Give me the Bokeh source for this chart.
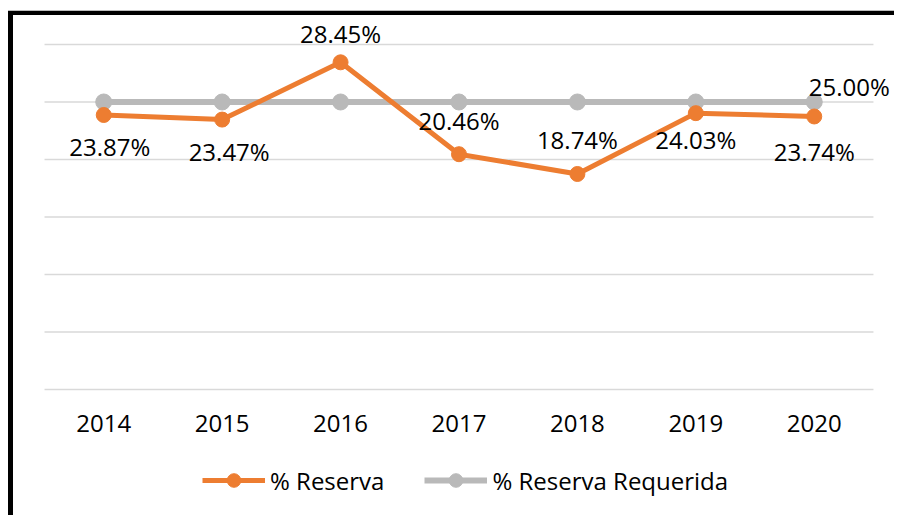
from bokeh.plotting import figure
from bokeh.models import (ColumnDataSource, Range1d, FixedTicker,
                          LabelSet, Legend, LegendItem)
from bokeh.core.properties import value
from bokeh.embed import file_html
from bokeh.resources import INLINE

years = ["2014", "2015", "2016", "2017", "2018", "2019", "2020"]
reserva = [23.87, 23.47, 28.45, 20.46, 18.74, 24.03, 23.74]
requerida = [25.00, 25.00, 25.00, 25.00, 25.00, 25.00, 25.00]
y_ticks = [0, 5, 10, 15, 20, 25, 30]

# label placement (screen-pixel offsets)
res_dx = [6, 7, 0, 0, 0, 0, 0]
res_dy = [-32, -32, 29, 34, 34, -26, -35]

FONT = "Open Sans"
FS = "24px"
ORANGE = "#ED7D31"
GRAY = "#B9B9B9"

xi = list(range(len(years)))
n = len(years)

p = figure(width=886, height=504, x_range=Range1d(-0.762, 6.72),
           y_range=Range1d(-11.3, 32.52), output_backend="svg", toolbar_location=None,
           min_border=0)
p.styles = {"border-left": "5px solid black", "border-top": "4px solid black",
            "margin-left": "8px", "margin-top": "11px",
            "box-shadow": "0 -1px 0 #BDBDBD"}
p.outline_line_color = None
p.background_fill_color = "white"
p.border_fill_color = "white"

p.yaxis.visible = False
p.ygrid.grid_line_color = None
p.xgrid.grid_line_color = None

# horizontal gridlines spanning the category band
p.segment(x0=[-0.5] * len(y_ticks), x1=[n - 0.5] * len(y_ticks), y0=y_ticks, y1=y_ticks,
          line_color="#D9D9D9", line_width=1.5)

xa = p.xaxis[0]
xa.fixed_location = 0
xa.ticker = FixedTicker(ticks=xi)
xa.major_label_overrides = {i: y for i, y in zip(xi, years)}
xa.axis_line_color = None
xa.major_tick_line_color = None
xa.minor_tick_line_color = None
xa.major_label_text_font = FONT
xa.major_label_text_font_size = FS
xa.major_label_text_color = "#000000"
xa.major_label_standoff = 19

src = ColumnDataSource(dict(x=xi, r=reserva, q=requerida,
                            rl=[f"{v:.2f}%" for v in reserva],
                            dx=res_dx, dy=res_dy))

lq = p.line("x", "q", source=src, line_color=GRAY, line_width=6)
cq = p.scatter("x", "q", source=src, size=16, fill_color=GRAY, line_color=GRAY)
lr = p.line("x", "r", source=src, line_color=ORANGE, line_width=5)
cr = p.scatter("x", "r", source=src, size=15, fill_color=ORANGE, line_color=ORANGE)

p.add_layout(LabelSet(x="x", y="r", text="rl", source=src, x_offset="dx", y_offset="dy",
                      text_align="center", text_baseline="middle",
                      text_font=value(FONT), text_font_size=value(FS),
                      text_color="#000000"))

q_src = ColumnDataSource(dict(x=[xi[-1]], q=[requerida[-1]],
                              t=[f"{requerida[-1]:.2f}%"]))
p.add_layout(LabelSet(x="x", y="q", text="t", source=q_src, x_offset=35, y_offset=15,
                      text_align="center", text_baseline="middle",
                      text_font=value(FONT), text_font_size=value(FS),
                      text_color="#000000"))

legend = Legend(items=[LegendItem(label="% Reserva", renderers=[lr, cr]),
                       LegendItem(label="% Reserva Requerida", renderers=[lq, cq])],
                orientation="horizontal", location=(189, 22),
                label_text_font=FONT, label_text_font_size=FS,
                label_text_color="#000000", glyph_width=63, glyph_height=34,
                label_standoff=5, spacing=40, border_line_color=None,
                background_fill_alpha=0, margin=0, padding=4)
p.add_layout(legend)

open("out.html", "w").write(file_html(p, INLINE))
